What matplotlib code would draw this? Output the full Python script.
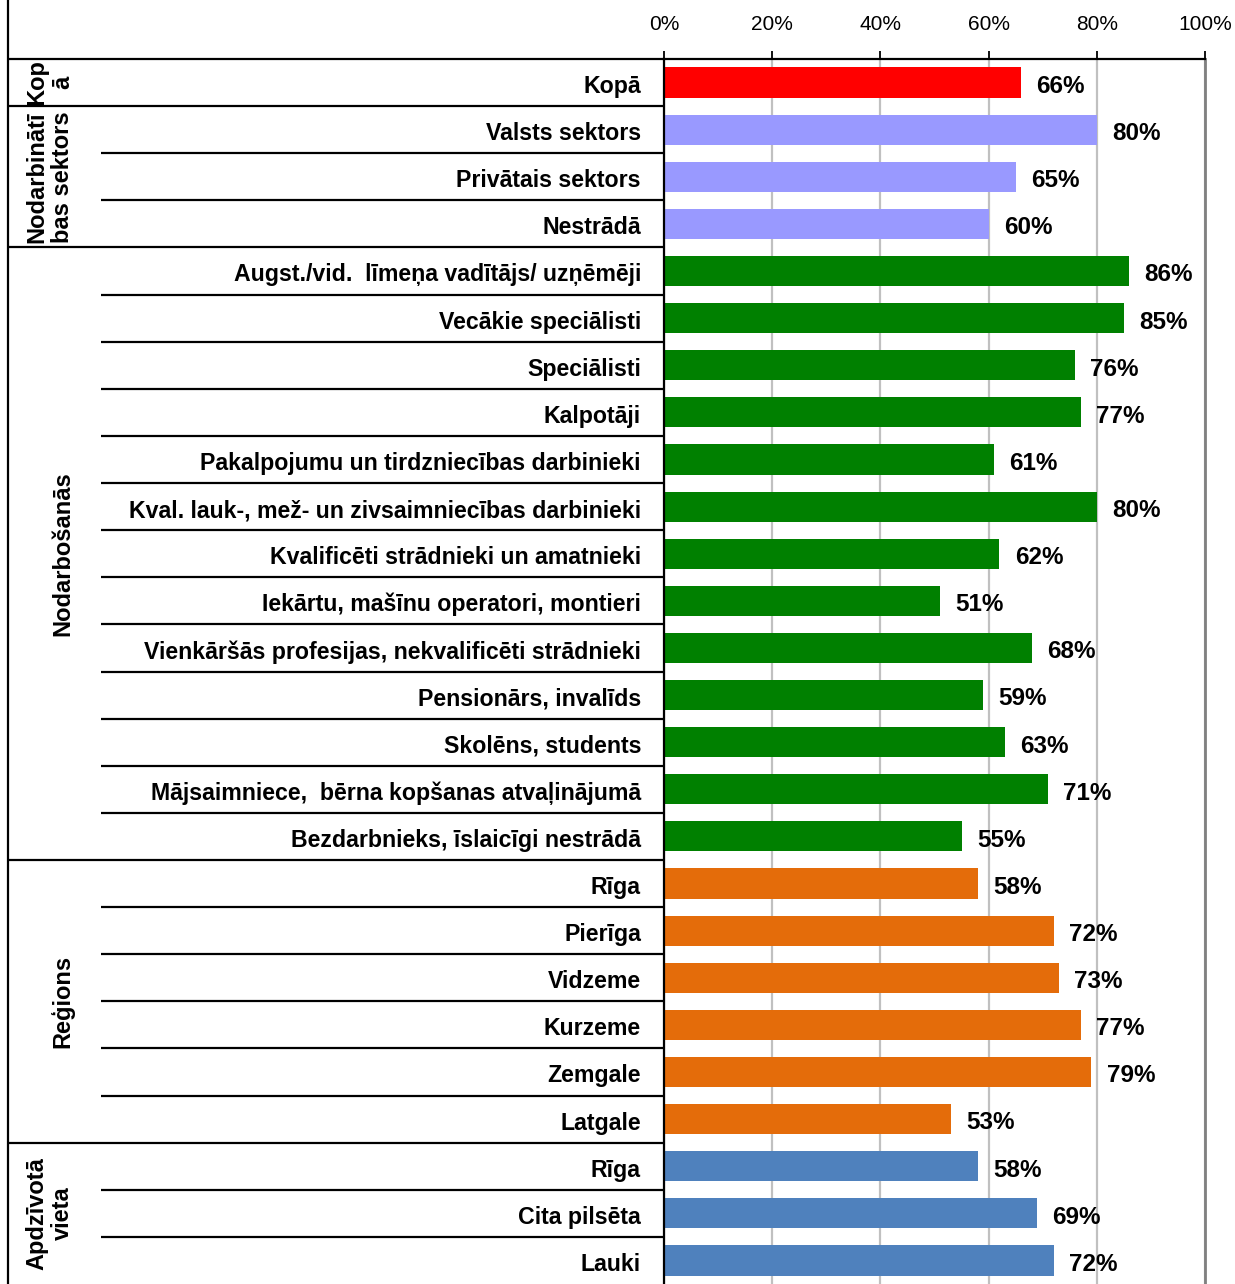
import matplotlib.pyplot as plt

plt.rcParams['font.family'] = ['Liberation Sans', 'DejaVu Sans']

categories = ['Kopā', 'Valsts sektors', 'Privātais sektors', 'Nestrādā',
              'Augst./vid.  līmeņa vadītājs/ uzņēmēji', 'Vecākie speciālisti',
              'Speciālisti', 'Kalpotāji', 'Pakalpojumu un tirdzniecības darbinieki',
              'Kval. lauk-, mež- un zivsaimniecības darbinieki',
              'Kvalificēti strādnieki un amatnieki', 'Iekārtu, mašīnu operatori, montieri',
              'Vienkāršās profesijas, nekvalificēti strādnieki', 'Pensionārs, invalīds',
              'Skolēns, students', 'Mājsaimniece,  bērna kopšanas atvaļinājumā',
              'Bezdarbnieks, īslaicīgi nestrādā',
              'Rīga', 'Pierīga', 'Vidzeme', 'Kurzeme', 'Zemgale', 'Latgale',
              'Rīga', 'Cita pilsēta', 'Lauki']
values = [66, 80, 65, 60, 86, 85, 76, 77, 61, 80, 62, 51, 68, 59, 63, 71, 55,
          58, 72, 73, 77, 79, 53, 58, 69, 72]
# group name, first row, number of rows
groups = [('Kop\nā', 0, 1), ('Nodarbinātī\nbas sektors', 1, 3),
          ('Nodarbošanās', 4, 13), ('Reģions', 17, 6), ('Apdzīvotā\nvieta', 23, 3)]
group_colors = ['#FF0000', '#9999FF', '#008000', '#E46C0A', '#4F81BD']
xticks = [0, 20, 40, 60, 80, 100]

W, H = 1235, 1284
fig = plt.figure(figsize=(W / 100, H / 100), dpi=100)

colors = []
for (name, start, n), c in zip(groups, group_colors):
    colors += [c] * n

n_rows = len(categories)
rows = list(range(n_rows))
row_px = (H - 59) / n_rows

# bars
ax = fig.add_axes([664 / W, 0, 541 / W, (H - 59) / H])
ax.barh(rows, values, height=0.64, color=colors, zorder=2)
ax.set_xlim(0, 100)
ax.set_ylim(n_rows - 0.5, -0.5)
ax.set_axisbelow(True)
ax.grid(axis='x', color='#C0C0C0', lw=1.6)
ax.xaxis.tick_top()
ax.set_xticks(xticks)
ax.set_xticklabels([f'{t}%' for t in xticks])
ax.tick_params(axis='x', direction='out', length=6, width=1.3, pad=12, labelsize=15)
ax.set_yticks([])
ax.spines['bottom'].set_visible(False)
ax.spines['right'].set_color('#808080')
ax.spines['right'].set_linewidth(2)
ax.spines['left'].set_linewidth(1.6)
ax.spines['top'].set_linewidth(1.6)

for i, v in enumerate(values):
    ax.annotate(f'{v}%', (v, i), xytext=(11, -1), textcoords='offset points',
                va='center_baseline', ha='left', fontsize=17.5, fontweight='bold')

# left table with row labels and group labels
tab = fig.add_axes([8 / W, 0, 656 / W, 1])
extra = 59 / row_px
tab.set_xlim(0, 656)
tab.set_ylim(n_rows - 0.5, -0.5 - extra)
for s in ['top', 'right', 'bottom']:
    tab.spines[s].set_visible(False)
tab.spines['left'].set_linewidth(1.6)
tab.set_xticks([])
tab.set_yticks([])
tab.patch.set_alpha(0)

for i, cat in enumerate(categories):
    tab.text(633, i + 0.03, cat, ha='right', va='center_baseline', fontsize=16.7,
             fontweight='bold')

for name, start, n in groups:
    tab.hlines(start - 0.5, 0, 656, color='black', lw=1.6)
    for k in range(1, n):
        tab.hlines(start + k - 0.5, 93, 656, color='black', lw=1.6)
    tab.text(66, start + (n - 1) / 2, name, rotation=90, ha='right', va='center',
             fontsize=17, fontweight='bold', linespacing=1.15, multialignment='center')

fig.savefig('out.png', dpi=100)
